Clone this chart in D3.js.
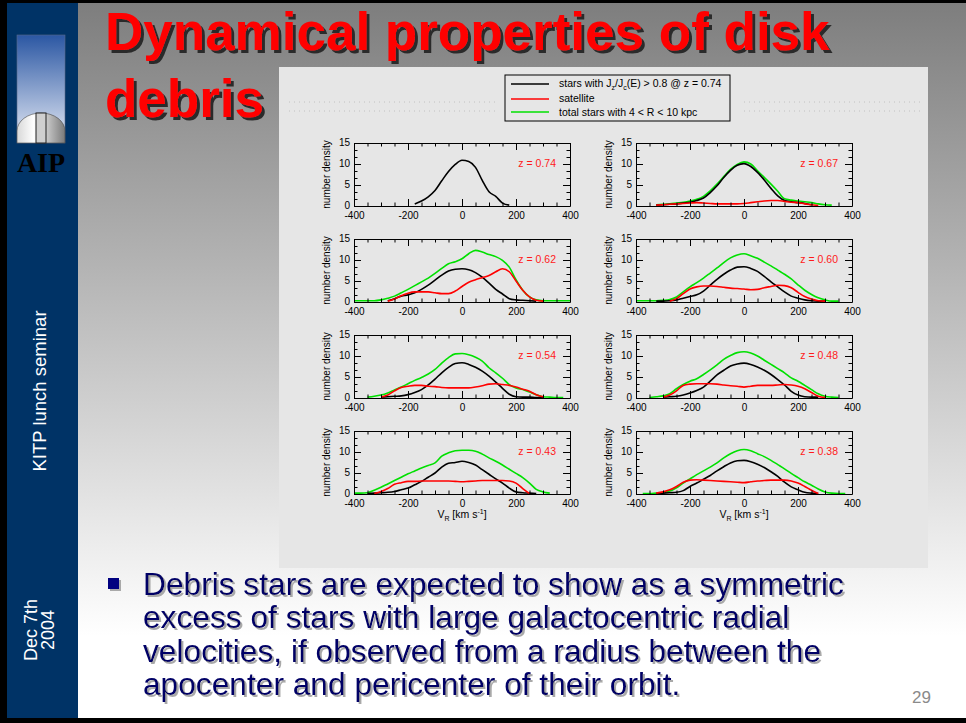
<!DOCTYPE html>
<html>
<head>
<meta charset="utf-8">
<script src="https://cdn.jsdelivr.net/npm/d3@7"></script>
<style>
html, body { margin: 0; padding: 0; background: #fff; }
svg { display: block; font-family: "Liberation Sans", Arial, Helvetica, sans-serif; }
</style>
</head>
<body>
<svg id="slide" width="966" height="723"></svg>
<script>
// ---- data (number density vs V_R, km/s) ----
const _ = null;
const vR = [-400, -375, -350, -325, -300, -275, -250, -225, -200, -175, -150, -125, -100, -75, -50, -25,
            0, 25, 50, 75, 100, 125, 150, 175, 200, 225, 250, 275, 300, 325, 350, 375, 400];

const zLabels = ["z = 0.74", "z = 0.67", "z = 0.62", "z = 0.60", "z = 0.54", "z = 0.48", "z = 0.43", "z = 0.38"];

// z = 0.74 (only the selected stars)
const black074 = [_,_,_,_,_,_,_,_,_, 0.5,1.2,2.2,3.7,6.0,8.2,9.9,10.9,10.6,9.2,6.1,3.4,2.3,0.7,0.2, _,_,_,_,_,_,_,_,_];
// z = 0.67
const green067 = [_,_,_, 0.3,0.4,0.5,0.7,0.9,1.2,1.6,2.3,3.6,5.2,7.0,8.7,9.9,10.5,10.0,8.4,6.8,5.2,3.5,1.7,1.4,1.2,1.0,0.8,0.5,0.3,0.2, _,_,_];
const black067 = [_,_,_, 0.2,0.3,0.4,0.5,0.7,0.9,1.3,1.9,3.2,4.8,6.8,8.5,9.7,10.1,9.4,8.0,6.2,4.2,2.4,1.3,1.0,0.8,0.6,0.3, _,_,_,_,_,_];
const red067   = [_,_,_, 0.2,0.3,0.4,0.5,0.6,0.7,0.8,0.7,0.6,0.5,0.5,0.5,0.5,0.6,0.8,1.0,1.2,1.3,1.3,1.1,0.9,0.8,0.5,0.3,0.1, _,_,_,_,_];
// z = 0.62
const green062 = [0.3,0.3,0.3,0.3,0.5,0.9,1.4,2.2,3.0,3.9,4.8,5.7,6.8,8.0,9.1,9.6,10.3,11.5,12.3,11.9,11.3,10.8,9.9,8.3,5.3,2.8,1.2,0.5,0.3,0.3,0.3,0.3,0.3];
const black062 = [_,_,_,_,_, 0.3,0.8,1.4,1.7,2.2,3.0,4.0,5.2,6.4,7.4,7.8,7.9,7.7,7.0,5.9,4.5,3.0,1.9,0.8,0.5,0.4,0.3,0.2, _,_,_,_,_];
const red062   = [_,_,_,_,_, 0.2,0.7,1.5,2.1,2.4,2.4,2.4,2.2,2.0,2.0,2.6,3.7,4.7,5.3,5.8,6.3,7.2,7.9,7.2,5.0,2.8,1.2,0.4,0.2, _,_,_,_];
// z = 0.60
const green060 = [0.3,0.3,0.3,0.3,0.4,0.6,1.2,2.4,3.6,4.6,5.7,6.9,8.1,9.4,10.5,11.2,11.5,11.0,10.4,9.5,8.6,7.6,6.6,5.5,4.1,2.8,1.8,1.0,0.5,0.2,0.2, _,_];
const black060 = [_,_,_, 0.2,0.2,0.3,0.5,0.9,1.3,1.7,2.6,4.0,5.4,6.6,7.6,8.3,8.4,8.0,7.3,6.1,4.8,3.6,2.4,1.4,0.9,0.5,0.3,0.2,0.2, _,_,_,_];
const red060   = [_,_,_,_,_, 0.2,0.8,2.0,3.1,3.6,3.8,3.8,3.7,3.5,3.3,3.2,3.1,2.9,3.0,3.4,3.7,4.0,3.9,3.4,2.3,1.3,0.7,0.3,0.2, _,_,_,_];
// z = 0.54
const green054 = [_,_, 0.2,0.4,0.7,1.2,1.9,2.6,3.4,4.2,4.9,5.7,6.8,8.3,9.6,10.5,10.6,10.3,9.7,8.8,7.2,6.0,4.7,3.2,2.4,2.0,1.4,0.8,0.3,0.2,0.1,0.1, _];
const black054 = [_,_,_,_, 0.2,0.3,0.4,0.5,0.8,1.3,2.0,3.1,4.5,6.0,7.3,8.2,8.4,8.0,7.3,6.4,5.2,3.8,2.3,0.9,0.3,0.2,0.2,0.1,0.1, _,_,_,_];
const red054   = [_,_,_,_, 0.2,0.7,1.7,2.5,2.8,3.0,3.0,2.8,2.7,2.5,2.4,2.4,2.4,2.4,2.6,2.9,3.3,3.4,3.2,3.0,2.6,2.1,1.6,0.8,0.3, _,_,_,_];
// z = 0.48
const green048 = [_,_, 0.1,0.3,0.5,1.0,2.2,3.2,4.0,4.6,5.6,6.7,7.9,9.2,10.1,10.8,11.0,10.7,10.0,9.0,8.0,7.0,6.0,4.8,4.0,3.0,2.0,1.0,0.4,0.2,0.1, _,_];
const black048 = [_,_,_,_, 0.2,0.3,0.4,0.7,1.2,1.8,2.6,4.0,5.5,6.6,7.6,8.1,8.3,8.0,7.4,6.6,5.6,4.4,3.1,1.6,0.7,0.3,0.2,0.2, _,_,_,_,_];
const red048   = [_,_,_,_, 0.2,0.7,1.7,3.0,3.3,3.4,3.4,3.4,3.3,3.1,2.9,2.8,2.6,2.8,3.0,3.0,3.0,3.1,3.2,3.1,2.8,2.2,1.3,0.4,0.1, _,_,_,_];
// z = 0.43
const green043 = [0.2,0.2,0.3,0.9,1.6,2.4,3.2,4.0,4.8,5.5,6.2,6.8,7.4,9.0,9.8,10.3,10.4,10.4,10.2,9.5,8.6,7.8,6.9,5.9,4.9,3.9,2.6,1.1,0.5,0.2, _,_,_];
const black043 = [_,_, 0.1,0.2,0.3,0.4,0.6,1.0,1.4,2.2,3.0,4.0,5.0,6.4,7.3,7.5,7.8,7.5,6.9,5.8,4.7,3.6,2.6,1.4,0.5,0.3,0.2,0.1, _,_,_,_,_];
const red043   = [_,_,_, 0.1,0.6,1.3,2.3,2.7,3.0,3.0,3.1,3.1,3.1,3.1,3.1,3.0,2.9,3.0,3.1,3.2,3.2,3.2,3.2,3.1,2.6,1.3,0.1, _,_,_,_,_,_];
// z = 0.38
const green038 = [_, 0.1,0.1,0.2,0.3,0.7,1.5,2.6,3.6,4.6,5.5,6.4,7.4,8.6,9.6,10.3,10.6,10.3,9.6,8.9,8.0,7.0,6.0,4.9,3.9,2.9,2.1,1.2,0.5,0.2,0.1,0.1, _];
const black038 = [_,_,_, 0.1,0.2,0.3,0.4,0.8,1.8,2.6,3.5,4.4,5.5,6.5,7.4,7.9,8.0,7.7,7.1,6.3,5.3,4.2,2.8,1.7,1.0,0.4,0.2,0.1, _,_,_,_,_];
const red038   = [_,_,_, 0.2,0.5,1.0,1.8,2.8,3.3,3.4,3.3,3.2,3.1,3.0,2.9,2.8,2.7,2.9,3.1,3.2,3.3,3.3,3.3,3.1,2.6,1.8,0.9,0.1, _,_,_,_,_];

const greenCurves = [null, green067, green062, green060, green054, green048, green043, green038];
const blackCurves = [black074, black067, black062, black060, black054, black048, black043, black038];
const redCurves   = [null, red067, red062, red060, red054, red048, red043, red038];

const xMajor = [-400, -200, 0, 200, 400];
const yMajor = [0, 5, 10, 15];

const bulletLines = [
    "Debris stars are expected to show as a symmetric",
    "excess of stars with large galactocentric radial",
    "velocities, if observed from a radius between the",
    "apocenter and pericenter of their orbit."
];

// ---- slide frame ----
const svg = d3.select('#slide');
const defs = svg.append('defs');

function vGradient(id, stops) {
    const g = defs.append('linearGradient').attr('id', id)
        .attr('x1', 0).attr('y1', 0).attr('x2', 0).attr('y2', 1);
    stops.forEach(s => g.append('stop').attr('offset', s[0]).attr('stop-color', s[1]));
}
vGradient('bg', [['0%', '#7d7d7d'], ['88%', '#ffffff'], ['100%', '#ffffff']]);
vGradient('sky', [['0%', '#2b57a3'], ['100%', '#e6ebf6']]);
defs.append('linearGradient').attr('id', 'dome')
    .attr('x1', 0).attr('y1', 0).attr('x2', 1).attr('y2', 0)
    .call(g => {
        g.append('stop').attr('offset', '0%').attr('stop-color', '#d8d8d8');
        g.append('stop').attr('offset', '35%').attr('stop-color', '#ffffff');
        g.append('stop').attr('offset', '100%').attr('stop-color', '#7a7a7a');
    });

// hard drop shadows for the title and the bullet text
function shadow(id, dx, color) {
    defs.append('filter').attr('id', id)
        .attr('x', '-5%').attr('y', '-20%').attr('width', '115%').attr('height', '150%')
        .append('feDropShadow')
        .attr('dx', dx).attr('dy', dx).attr('stdDeviation', 0)
        .attr('flood-color', color).attr('flood-opacity', 1);
}
shadow('titleShadow', 3, '#2a2a2a');
shadow('textShadow', 2, '#a9a9a9');

svg.append('rect').attr('width', 966).attr('height', 723).attr('fill', 'url(#bg)');
svg.append('rect').attr('x', 0).attr('y', 0).attr('width', 78).attr('height', 723).attr('fill', '#003366');
svg.append('rect').attr('x', 0).attr('y', 0).attr('width', 7).attr('height', 723).attr('fill', '#000');
svg.append('rect').attr('x', 0).attr('y', 0).attr('width', 966).attr('height', 3).attr('fill', '#000');
svg.append('rect').attr('x', 0).attr('y', 718).attr('width', 966).attr('height', 5).attr('fill', '#000');

// AIP logo
svg.append('rect').attr('x', 17).attr('y', 35).attr('width', 48).attr('height', 108)
    .attr('fill', 'url(#sky)').attr('stroke', '#5a6a88').attr('stroke-width', 0.6);
svg.append('path').attr('d', 'M17,143 L17,131 A24,18 0 0 1 65,131 L65,143 Z')
    .attr('fill', 'url(#dome)').attr('stroke', '#444').attr('stroke-width', 0.6);
svg.append('rect').attr('x', 36).attr('y', 113).attr('width', 10).attr('height', 30)
    .attr('fill', '#cfcfcf').attr('stroke', '#222').attr('stroke-width', 1);
svg.append('text').attr('x', 41).attr('y', 172).attr('text-anchor', 'middle')
    .style('font-family', '"Liberation Serif", "Times New Roman", serif')
    .style('font-weight', 'bold').style('font-size', '28px').attr('fill', '#000').text('AIP');

// sidebar text
svg.append('text').attr('transform', 'translate(46,391) rotate(-90)').attr('text-anchor', 'middle')
    .attr('fill', '#fff').style('font-size', '18.5px').text('KITP lunch seminar');
svg.append('text').attr('transform', 'translate(37,630) rotate(-90)').attr('text-anchor', 'middle')
    .attr('fill', '#fff').style('font-size', '18px').text('Dec 7th');
svg.append('text').attr('transform', 'translate(54,630) rotate(-90)').attr('text-anchor', 'middle')
    .attr('fill', '#fff').style('font-size', '18px').text('2004');

// title
const titleLines = [['Dynamical properties of disk', 50], ['debris', 117]];
titleLines.forEach(([txt, y]) => {
    svg.append('text').attr('x', 105).attr('y', y).attr('fill', '#ff0000')
        .attr('filter', 'url(#titleShadow)')
        .style('font-weight', 'bold').style('font-size', '53px').text(txt);
});

// ---- figure image ----
svg.append('rect').attr('x', 279).attr('y', 67).attr('width', 649).attr('height', 501).attr('fill', '#e6e6e6');
[[289, 497, 102], [289, 497, 111], [744, 920, 102], [744, 920, 111]].forEach(([x1, x2, y]) => {
    svg.append('line').attr('x1', x1).attr('x2', x2).attr('y1', y).attr('y2', y)
        .attr('stroke', '#b8b8b8').attr('stroke-width', 0.8).attr('stroke-dasharray', '1,4');
});

const colors = { black: '#000000', red: '#ff0000', green: '#00e000' };

// legend
const legend = svg.append('g').style('font-size', '10.5px');
legend.append('rect').attr('x', 505).attr('y', 75).attr('width', 225).attr('height', 46)
    .attr('fill', 'none').attr('stroke', '#000').attr('stroke-width', 1);
const legendRows = [['black', 84], ['red', 99], ['green', 112]];
legendRows.forEach(([c, y]) => {
    legend.append('line').attr('x1', 511).attr('x2', 549).attr('y1', y).attr('y2', y)
        .attr('stroke', colors[c]).attr('stroke-width', 1.6);
});
const l1 = legend.append('text').attr('x', 559).attr('y', 87);
l1.append('tspan').text('stars with J');
l1.append('tspan').attr('dy', 2.5).style('font-size', '7px').text('z');
l1.append('tspan').attr('dy', -2.5).text('/J');
l1.append('tspan').attr('dy', 2.5).style('font-size', '7px').text('c');
l1.append('tspan').attr('dy', -2.5).text('(E) > 0.8 @ z = 0.74');
legend.append('text').attr('x', 559).attr('y', 102).text('satellite');
legend.append('text').attr('x', 559).attr('y', 116).text('total stars with 4 < R < 10 kpc');

// panels
const colLeft = [354, 636];
const rowTop = [143, 239, 335, 431];
const plotW = 216, plotH = 63;

const x = d3.scaleLinear().domain([-400, 400]).range([0, plotW]);
const y = d3.scaleLinear().domain([0, 15]).range([plotH, 0]);
const xMinor = d3.range(-400, 401, 50).filter(v => !xMajor.includes(v));
const yMinor = d3.range(0, 15.01, 5 / 3).filter((v, i) => i % 3 !== 0);

const line = d3.line()
    .defined(d => d[1] != null)
    .x(d => x(d[0]))
    .y(d => y(d[1]))
    .curve(d3.curveMonotoneX);

function styleAxis(sel) {
    sel.attr('font-family', null).attr('font-size', null);
    sel.selectAll('path.domain').attr('stroke', '#000').attr('stroke-width', 1);
    sel.selectAll('.tick line').attr('stroke', '#000').attr('stroke-width', 1);
    sel.selectAll('.tick text').attr('fill', '#000').style('font-size', '10px');
}

zLabels.forEach((label, i) => {
    const c = i % 2, r = Math.floor(i / 2);
    const g = svg.append('g').attr('transform', `translate(${colLeft[c]},${rowTop[r]})`);

    // curves
    const series = [['green', greenCurves[i]], ['black', blackCurves[i]], ['red', redCurves[i]]];
    series.forEach(([col, vals]) => {
        if (!vals) return;
        g.append('path')
            .datum(vR.map((v, k) => [v, vals[k]]))
            .attr('d', line)
            .attr('fill', 'none')
            .attr('stroke', colors[col])
            .attr('stroke-width', 1.6)
            .attr('stroke-linejoin', 'round');
    });

    // axes, ticks pointing inward on all four sides
    g.append('g').attr('transform', `translate(0,${plotH})`)
        .call(d3.axisBottom(x).tickValues(xMajor).tickSizeInner(-7).tickSizeOuter(0).tickPadding(6).tickFormat(d => String(d)))
        .call(styleAxis);
    g.append('g').attr('transform', `translate(0,${plotH})`)
        .call(d3.axisBottom(x).tickValues(xMinor).tickSize(-3.5).tickFormat(''))
        .call(styleAxis).select('.domain').remove();
    g.append('g')
        .call(d3.axisTop(x).tickValues(xMajor).tickSizeInner(-7).tickSizeOuter(0).tickFormat(''))
        .call(styleAxis);
    g.append('g')
        .call(d3.axisTop(x).tickValues(xMinor).tickSize(-3.5).tickFormat(''))
        .call(styleAxis).select('.domain').remove();
    g.append('g')
        .call(d3.axisLeft(y).tickValues(yMajor).tickSizeInner(-7).tickSizeOuter(0).tickPadding(4).tickFormat(d => String(d)))
        .call(styleAxis)
        .selectAll('.tick text').attr('dy', '0.22em');
    g.append('g')
        .call(d3.axisLeft(y).tickValues(yMinor).tickSize(-3.5).tickFormat(''))
        .call(styleAxis).select('.domain').remove();
    g.append('g').attr('transform', `translate(${plotW},0)`)
        .call(d3.axisRight(y).tickValues(yMajor).tickSizeInner(-7).tickSizeOuter(0).tickFormat(''))
        .call(styleAxis);
    g.append('g').attr('transform', `translate(${plotW},0)`)
        .call(d3.axisRight(y).tickValues(yMinor).tickSize(-3.5).tickFormat(''))
        .call(styleAxis).select('.domain').remove();

    g.append('text').attr('transform', `translate(-24,${plotH / 2}) rotate(-90)`)
        .attr('text-anchor', 'middle').style('font-size', '10px').attr('fill', '#000')
        .text('number density');

    g.append('text').attr('x', plotW - 14).attr('y', 20).attr('dy', '0.35em')
        .attr('text-anchor', 'end').style('font-size', '10.5px').attr('fill', '#ff1a1a')
        .text(label);

    if (r === rowTop.length - 1) {
        const t = g.append('text').attr('x', plotW / 2).attr('y', plotH + 24)
            .attr('text-anchor', 'middle').style('font-size', '10.5px').attr('fill', '#000');
        t.append('tspan').text('V');
        t.append('tspan').attr('dy', 3).style('font-size', '7px').text('R');
        t.append('tspan').attr('dy', -3).text(' [km s');
        t.append('tspan').attr('dy', -4).style('font-size', '7px').text('-1');
        t.append('tspan').attr('dy', 4).text(']');
    }
});

// ---- bullet text ----
const bullet = svg.append('g').style('font-size', '31.7px').attr('filter', 'url(#textShadow)');
bullet.append('rect').attr('x', 108).attr('y', 578).attr('width', 11).attr('height', 11).attr('fill', '#000080');
bulletLines.forEach((txt, i) => {
    bullet.append('text').attr('x', 143).attr('y', 595 + i * 33.3).attr('fill', '#000066').text(txt);
});

svg.append('text').attr('x', 931).attr('y', 703).attr('text-anchor', 'end')
    .style('font-size', '17px').attr('fill', '#8a8a8a').text('29');
</script>
</body>
</html>
